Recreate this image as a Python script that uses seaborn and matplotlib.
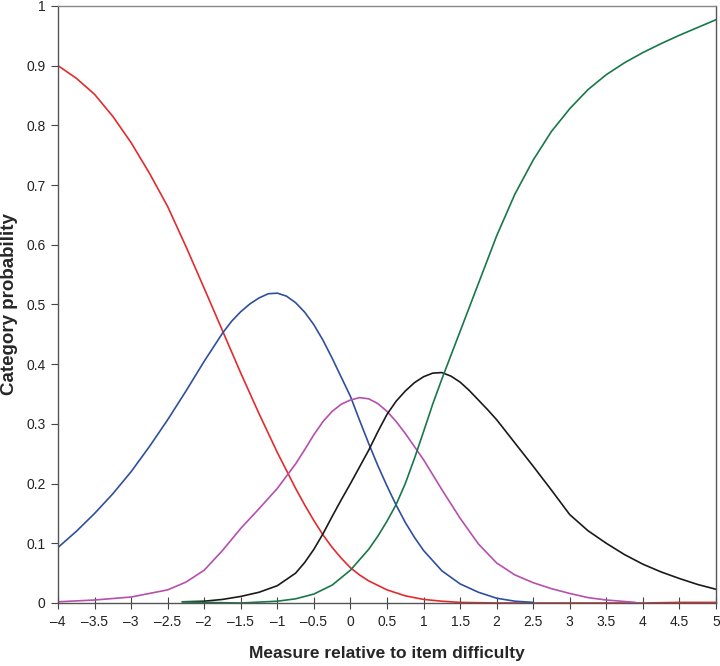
import numpy as np
import pandas as pd
import matplotlib
matplotlib.use("Agg")
import matplotlib.pyplot as plt
import seaborn as sns

# Category probability curves
red_x = [-4, -3.75, -3.5, -3.25, -3, -2.75, -2.5, -2.25, -2, -1.75, -1.5, -1.25, -1, -0.75, -0.625, -0.5,
         -0.375, -0.25, -0.125, 0, 0.125, 0.25, 0.5, 0.75, 1, 1.25, 1.5, 2, 2.5, 3, 3.5, 4, 4.5, 5]
red_y = [0.90, 0.879, 0.852, 0.815, 0.771, 0.72, 0.664, 0.597, 0.527, 0.456, 0.385, 0.317, 0.252, 0.192, 0.164, 0.138,
         0.114, 0.093, 0.075, 0.059, 0.047, 0.037, 0.022, 0.012, 0.006, 0.003, 0.001, 0.0, 0.0, 0.0, 0.0, 0.0, 0.001, 0.001]

blue_x = [-4, -3.75, -3.5, -3.25, -3, -2.75, -2.5, -2.25, -2, -1.75, -1.625, -1.5, -1.375, -1.25, -1.125, -1,
          -0.875, -0.75, -0.625, -0.5, -0.375, -0.25, -0.125, 0, 0.125, 0.25, 0.375, 0.5, 0.625, 0.75, 0.875,
          1, 1.25, 1.5, 1.75, 2, 2.25, 2.5]
blue_y = [0.093, 0.12, 0.15, 0.183, 0.22, 0.262, 0.307, 0.355, 0.405, 0.452, 0.472, 0.488, 0.501, 0.511, 0.518, 0.519,
          0.514, 0.503, 0.487, 0.466, 0.44, 0.41, 0.378, 0.346, 0.306, 0.267, 0.23, 0.196, 0.164, 0.135, 0.11,
          0.088, 0.054, 0.032, 0.018, 0.008, 0.003, 0.001]

magenta_x = [-4, -3.5, -3, -2.5, -2.25, -2, -1.75, -1.5, -1.25, -1, -0.75, -0.625, -0.5, -0.375, -0.25, -0.125,
             0, 0.125, 0.25, 0.375, 0.5, 0.625, 0.75, 0.875, 1, 1.25, 1.5, 1.75, 2, 2.25, 2.5, 2.75, 3, 3.25,
             3.5, 3.9]
magenta_y = [0.002, 0.005, 0.01, 0.022, 0.035, 0.055, 0.088, 0.125, 0.158, 0.192, 0.233, 0.257, 0.282, 0.304, 0.321,
             0.333, 0.34, 0.344, 0.342, 0.334, 0.321, 0.304, 0.284, 0.262, 0.24, 0.19, 0.142, 0.099, 0.067, 0.047,
             0.034, 0.024, 0.016, 0.009, 0.005, 0.001]

black_x = [-2.3, -2, -1.75, -1.5, -1.25, -1, -0.75, -0.625, -0.5, -0.375, -0.25, -0.125, 0, 0.125, 0.25, 0.375,
           0.5, 0.625, 0.75, 0.875, 1, 1.125, 1.25, 1.375, 1.5, 1.625, 1.75, 1.875, 2, 2.25, 2.5, 2.75, 3, 3.25,
           3.5, 3.75, 4, 4.25, 4.5, 4.75, 5]
black_y = [0.002, 0.003, 0.006, 0.011, 0.018, 0.029, 0.05, 0.068, 0.09, 0.116, 0.145, 0.173, 0.2, 0.228, 0.256, 0.287,
           0.316, 0.338, 0.355, 0.369, 0.379, 0.385, 0.386, 0.38, 0.37, 0.356, 0.34, 0.324, 0.307, 0.268, 0.229,
           0.189, 0.148, 0.121, 0.1, 0.081, 0.065, 0.052, 0.041, 0.031, 0.023]

green_x = [-2.3, -2, -1.5, -1, -0.75, -0.5, -0.25, 0, 0.25, 0.375, 0.5, 0.625, 0.75, 0.875, 1, 1.125, 1.25, 1.375,
           1.5, 1.75, 2, 2.25, 2.5, 2.75, 3, 3.25, 3.5, 3.75, 4, 4.25, 4.5, 4.75, 5]
green_y = [0.002, 0.001, 0.0, 0.003, 0.007, 0.015, 0.03, 0.055, 0.09, 0.112, 0.137, 0.165, 0.2, 0.242, 0.287, 0.333,
           0.375, 0.415, 0.455, 0.535, 0.615, 0.685, 0.742, 0.79, 0.828, 0.86, 0.885, 0.905, 0.922, 0.937, 0.951,
           0.964, 0.977]

series = {
    "0": (red_x, red_y),
    "1": (blue_x, blue_y),
    "2": (magenta_x, magenta_y),
    "3": (black_x, black_y),
    "4": (green_x, green_y),
}
colors = {"0": "#e32b2d", "1": "#2f4f9e", "2": "#b64fad", "3": "#1a1a1a", "4": "#18784a"}

frames = []
for name, (xs, ys) in series.items():
    frames.append(pd.DataFrame({"x": xs, "p": ys, "category": name}))
df = pd.concat(frames, ignore_index=True)

sns.set_style("ticks")
plt.rcParams["font.family"] = ["Liberation Sans", "DejaVu Sans"]

fig = plt.figure(figsize=(7.2, 6.66), dpi=100)
ax = fig.add_axes([0.0806, 0.0946, 0.9138, 0.8964])

sns.lineplot(data=df, x="x", y="p", hue="category", palette=colors, estimator=None,
             sort=False, legend=False, linewidth=1.2, ax=ax)

ax.set_xlim(-4, 5)
ax.set_ylim(0, 1)
xt = np.arange(-4, 5.01, 0.5)
ax.set_xticks(xt)
ax.set_xticklabels([f"{v:g}".replace("-", "\u2013") for v in xt])
yt = np.round(np.arange(0, 1.01, 0.1), 1)
ax.set_yticks(yt)
ax.set_yticklabels([f"{v:g}" for v in yt])
ax.tick_params(axis="both", width=0.8, color="#444444", labelsize=10, labelcolor="#222222")
ax.tick_params(axis="x", direction="inout", length=8, pad=5)
ax.tick_params(axis="y", direction="out", length=5, pad=4)

for side in ["left", "bottom", "right"]:
    ax.spines[side].set_color("#555555")
    ax.spines[side].set_linewidth(1.0)
ax.spines["top"].set_color("#888888")
ax.spines["top"].set_linewidth(1.0)

ax.set_xlabel("Measure relative to item difficulty", fontsize=12.5, fontweight="bold", labelpad=12)
ax.set_ylabel("Category probability", fontsize=13.5, fontweight="bold")
ax.yaxis.set_label_coords(-0.061, 0.5)

fig.savefig("out.png", dpi=100)
